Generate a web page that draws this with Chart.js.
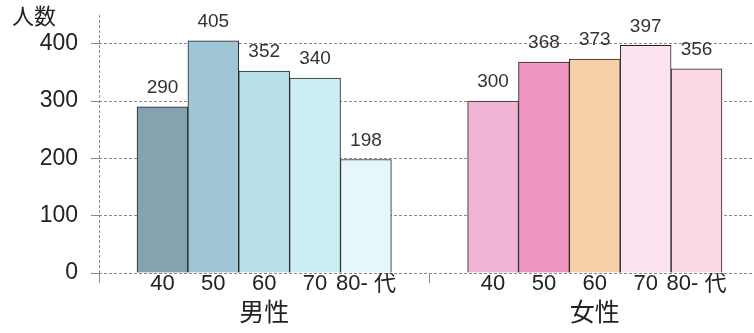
<!DOCTYPE html>
<html>
<head>
<meta charset="utf-8">
<script src="https://cdn.jsdelivr.net/npm/chart.js@4/dist/chart.umd.min.js"></script>
<style>
  html, body { margin: 0; padding: 0; background: #fff; }
</style>
</head>
<body>
<canvas id="grafico" width="754" height="333"></canvas>
<script>
  // dados
  const grupos = ["男性", "女性"];
  const idades = ["40", "50", "60", "70", "80- 代"];
  const homens = [290, 405, 352, 340, 198];
  const mulheres = [300, 368, 373, 397, 356];
  const yTicks = [0, 100, 200, 300, 400];
  const tituloY = "人数";

  const coresHomens = ["#84a2b0", "#a0c6d6", "#b9dfea", "#cdedf5", "#e6f7fb"];
  const coresMulheres = ["#f0b5d5", "#f096c3", "#f7cfa8", "#fde2f1", "#fbd8e5"];

  // posição de cada grupo no eixo x (uma barra = 1 unidade)
  const inicioGrupo = [1, 7.5];
  const xMin = -0.248, xMax = 12.63;

  const pontos = (valores, g) => valores.map((v, i) => ({ x: inicioGrupo[g] + i, y: v }));

  // ticks do eixo x: borda esquerda, barras e separador entre grupos
  const xTicks = [{ value: xMin, label: "", marca: true }];
  idades.forEach((a, i) => xTicks.push({ value: inicioGrupo[0] + i, label: a, marca: false }));
  xTicks.push({ value: (inicioGrupo[0] + 4 + inicioGrupo[1]) / 2, label: "", marca: true });
  idades.forEach((a, i) => xTicks.push({ value: inicioGrupo[1] + i, label: a, marca: false }));

  const fonte = '"Liberation Sans", "Noto Sans CJK JP", sans-serif';
  Chart.defaults.font.family = fonte;
  Chart.defaults.color = "#222";

  const rotulos = {
    id: "rotulos",
    afterDatasetsDraw(chart) {
      const ctx = chart.ctx;
      ctx.save();
      ctx.fillStyle = "#333";
      ctx.font = "19px " + fonte;
      ctx.textAlign = "center";
      ctx.textBaseline = "middle";
      chart.data.datasets.forEach((ds, d) => {
        chart.getDatasetMeta(d).data.forEach((bar, i) => {
          ctx.fillText(String(ds.data[i].y), bar.x, bar.y - 19);
        });
      });
      // nome dos grupos
      const x = chart.scales.x;
      ctx.fillStyle = "#222";
      ctx.font = "25px " + fonte;
      grupos.forEach((g, k) => {
        const cx = (x.getPixelForValue(inicioGrupo[k]) + x.getPixelForValue(inicioGrupo[k] + 4)) / 2;
        ctx.fillText(g, cx, 314);
      });
      // título do eixo y
      ctx.font = "22px " + fonte;
      ctx.fillText(tituloY, 34, 18);
      ctx.restore();
    }
  };

  const semPadding = scale => {
    scale.paddingTop = 0;
    scale.paddingBottom = 0;
    scale.paddingLeft = 0;
    scale.paddingRight = 0;
  };

  new Chart(document.getElementById("grafico"), {
    type: "bar",
    data: {
      datasets: [
        {
          label: grupos[0],
          data: pontos(homens, 0),
          backgroundColor: coresHomens,
          borderColor: "#222",
          borderWidth: 1,
          grouped: false,
          categoryPercentage: 1,
          barPercentage: 1
        },
        {
          label: grupos[1],
          data: pontos(mulheres, 1),
          backgroundColor: coresMulheres,
          borderColor: "#222",
          borderWidth: 1,
          grouped: false,
          categoryPercentage: 1,
          barPercentage: 1
        }
      ]
    },
    options: {
      responsive: false,
      animation: false,
      devicePixelRatio: 1,
      layout: { padding: { top: 15, left: 0, right: 0, bottom: 0 } },
      plugins: { legend: { display: false }, tooltip: { enabled: false } },
      scales: {
        x: {
          type: "linear",
          min: xMin,
          max: xMax,
          offset: false,
          afterBuildTicks(scale) {
            scale.ticks = xTicks.map(t => ({ value: t.value }));
          },
          afterFit(scale) { scale.height = 60; semPadding(scale); },
          ticks: {
            autoSkip: false,
            maxRotation: 0,
            padding: -12,
            font: { size: 22 },
            color: "#222",
            callback: (v, i) => xTicks[i].label
          },
          grid: {
            offset: false,
            drawOnChartArea: true,
            tickLength: 10,
            color: ctx => (ctx.tick && ctx.tick.value === xMin ? "#8a8a8a" : "transparent"),
            tickColor: ctx => (ctx.tick && xTicks[ctx.index] && xTicks[ctx.index].marca ? "#8a8a8a" : "transparent")
          },
          border: { display: false, dash: [3, 2] }
        },
        y: {
          min: 0,
          max: 450,
          afterBuildTicks(scale) {
            scale.ticks = yTicks.map(v => ({ value: v }));
          },
          afterFit(scale) { scale.width = 99; semPadding(scale); },
          ticks: {
            padding: 13,
            font: { size: 23 },
            color: "#222"
          },
          grid: {
            color: "#8a8a8a",
            tickLength: 8
          },
          border: { display: false, dash: [3, 2] }
        }
      }
    },
    plugins: [rotulos]
  });
</script>
</body>
</html>
